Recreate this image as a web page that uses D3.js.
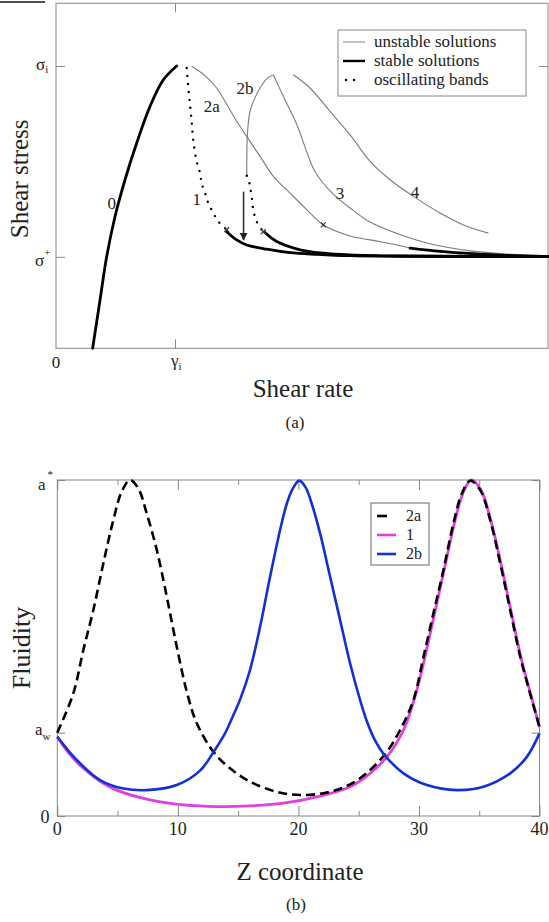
<!DOCTYPE html>
<html>
<head>
<meta charset="utf-8">
<script src="https://cdn.jsdelivr.net/npm/d3@7"></script>
<style>
  body { margin: 0; background: #fff; }
  svg { display: block; }
  svg text { font-family: "Liberation Serif", "DejaVu Serif", "Noto Serif", "Times New Roman", Times, serif; fill: #222; }
</style>
</head>
<body>
<svg id="chart"></svg>
<script>
// ---------- panel (a): shear stress vs shear rate ----------
// x in units of gamma_i, y in units of sigma_i
const sigmaPlus = 0.324, sigmaI = 1, gammaI = 1;

const curve0 = [[0.308,0],[0.370,0.171],[0.426,0.325],[0.496,0.467],[0.580,0.597],[0.678,0.727],[0.790,0.857],[0.902,0.951],[1.014,1.0]];
const curve1Osc = [[1.098,0.993],[1.112,0.922],[1.126,0.863],[1.140,0.804],[1.154,0.733],[1.182,0.662],[1.210,0.621],[1.224,0.585],[1.252,0.550],[1.280,0.514],[1.322,0.479],[1.364,0.449],[1.434,0.420]];
const curve1Stable = [[1.434,0.413],[1.518,0.384],[1.603,0.366],[1.770,0.351],[1.966,0.339],[2.191,0.333],[2.471,0.328],[2.891,0.326],[4.134,0.3245]];
const curve2a = [[1.140,0.999],[1.252,0.966],[1.350,0.922],[1.518,0.804],[1.630,0.733],[1.742,0.662],[1.826,0.609],[1.966,0.550],[2.107,0.491],[2.246,0.437],[2.471,0.398],[2.639,0.384],[2.863,0.366],[2.975,0.355]];
const curve2aStable = [[2.975,0.355],[3.227,0.343],[3.423,0.337],[3.731,0.330],[4.134,0.3248]];
const curve2b = [[1.603,0.611],[1.603,0.650],[1.608,0.756],[1.630,0.839],[1.672,0.887],[1.714,0.922],[1.776,0.957],[1.821,0.967]];
const curve2bOsc = [[1.603,0.611],[1.616,0.603],[1.630,0.573],[1.644,0.538],[1.658,0.490],[1.686,0.449],[1.742,0.413]];
const curve2bStable = [[1.756,0.410],[1.855,0.378],[2.050,0.349],[2.246,0.337],[2.471,0.331],[2.891,0.327],[4.134,0.3245]];
const curve3 = [[1.826,0.969],[1.924,0.880],[2.025,0.791],[2.101,0.703],[2.160,0.639],[2.235,0.590],[2.345,0.540],[2.471,0.497],[2.639,0.447],[2.849,0.409],[3.143,0.370],[3.479,0.345],[3.899,0.331],[4.134,0.326]];
const curve4 = [[1.994,0.969],[2.134,0.922],[2.303,0.839],[2.471,0.756],[2.639,0.662],[2.807,0.597],[3.003,0.538],[3.227,0.479],[3.423,0.437],[3.633,0.408]];
const crossMarks = [[1.434,0.420],[1.742,0.413],[2.246,0.437]];
const arrowX = 1.576, arrowFrom = 0.555, arrowTo = 0.384;
const curveLabels = [
  { t: "0", x: 0.468, y: 0.514 }, { t: "1", x: 1.182, y: 0.528 },
  { t: "2a", x: 1.308, y: 0.857 }, { t: "2b", x: 1.588, y: 0.922 },
  { t: "3", x: 2.387, y: 0.550 }, { t: "4", x: 3.017, y: 0.555 }
];
const legendA = ["unstable solutions", "stable solutions", "oscillating bands"];

// ---------- panel (b): fluidity vs z ----------
const aStar = 1, aW = 0.248;
const zTicks = [0, 10, 20, 30, 40];
const zMinor = [5, 15, 25, 35];
const profile2a = [[0,0.248],[1.33,0.365],[2.16,0.494],[2.99,0.613],[3.82,0.752],[4.65,0.881],[5.34,0.965],[6.03,1.0],[6.72,0.975],[7.42,0.90],[8.25,0.792],[9.08,0.653],[9.91,0.504],[10.74,0.370],[11.57,0.276],[12.95,0.191],[14.33,0.142],[15.99,0.102],[18.2,0.072],[20.14,0.0625],[22.36,0.070],[24.29,0.094],[25.95,0.137],[27.34,0.191],[28.44,0.256],[29.54,0.345],[30.38,0.474],[31.2,0.603],[32.03,0.732],[32.86,0.871],[33.56,0.96],[34.25,0.998],[35.08,0.97],[35.91,0.881],[36.74,0.752],[37.57,0.613],[38.4,0.474],[39.37,0.345],[40,0.265]];
const profile1 = [[0,0.236],[1.0,0.185],[2.16,0.142],[3.5,0.105],[4.93,0.077],[7.69,0.048],[10.46,0.033],[13.23,0.028],[15.99,0.030],[18.76,0.038],[21.53,0.057],[24.29,0.087],[25.95,0.127],[27.34,0.176],[28.72,0.256],[29.83,0.375],[30.6,0.49],[31.4,0.62],[32.2,0.75],[33.0,0.88],[33.7,0.965],[34.35,1.0],[35.15,0.97],[35.95,0.881],[36.8,0.752],[37.62,0.613],[38.45,0.474],[39.4,0.345],[40,0.265]];
const profile2b = [[0,0.236],[1.61,0.167],[3.54,0.107],[5.48,0.082],[7.42,0.077],[9.91,0.092],[11.84,0.135],[12.95,0.19],[13.9,0.245],[14.6,0.30],[15.2,0.35],[15.99,0.435],[16.82,0.563],[17.65,0.712],[18.48,0.851],[19.0,0.925],[19.5,0.972],[20.07,0.998],[20.6,0.978],[21.1,0.93],[21.8,0.841],[22.63,0.712],[23.46,0.583],[24.29,0.454],[25.12,0.345],[25.7,0.28],[26.4,0.222],[27.06,0.185],[28.72,0.127],[30.66,0.092],[33.15,0.077],[35.35,0.087],[37.57,0.127],[38.95,0.176],[40,0.246]];
const legendB = ["2a", "1", "2b"];

const W = 549, H = 922;
const svg = d3.select("#chart").attr("width", W).attr("height", H);

// small stray rule at the very top left of the page
svg.append("line").attr("x1", 0).attr("x2", 45).attr("y1", 2).attr("y2", 2)
  .attr("stroke", "#111").attr("stroke-width", 1.5);

// ===== panel (a) =====
const ax = d3.scaleLinear().domain([0, 4.134]).range([56, 548]);
const ay = d3.scaleLinear().domain([0, 1.222]).range([348.3, 3.3]);
const line = (sx, sy) => d3.line().x(d => sx(d[0])).y(d => sy(d[1])).curve(d3.curveCatmullRom.alpha(0.5));
const la = line(ax, ay);

const gA = svg.append("g");
gA.append("rect").attr("x", ax(0)).attr("y", ay(1.222))
  .attr("width", ax(4.134) - ax(0)).attr("height", ay(0) - ay(1.222))
  .attr("fill", "none").attr("stroke", "#888").attr("stroke-width", 1);

// ticks (inward) on all four sides
gA.append("g").attr("transform", `translate(0,${ay(0)})`)
  .call(d3.axisBottom(ax).tickValues([gammaI]).tickSize(-9).tickFormat(""))
  .call(g => g.select(".domain").remove());
gA.append("g").attr("transform", `translate(0,${ay(1.222)})`)
  .call(d3.axisTop(ax).tickValues([gammaI]).tickSize(-9).tickFormat(""))
  .call(g => g.select(".domain").remove());
gA.append("g").attr("transform", `translate(${ax(0)},0)`)
  .call(d3.axisLeft(ay).tickValues([sigmaPlus, sigmaI]).tickSize(-9).tickFormat(""))
  .call(g => g.select(".domain").remove());
gA.append("g").attr("transform", `translate(${ax(4.134)},0)`)
  .call(d3.axisRight(ay).tickValues([sigmaPlus, sigmaI]).tickSize(-9).tickFormat(""))
  .call(g => g.select(".domain").remove());
gA.selectAll(".tick line").attr("stroke", "#888");

// tick labels
gA.append("text").attr("x", ax(0)).attr("y", 368).attr("text-anchor", "middle")
  .attr("font-size", 17).text("0");
const gl = gA.append("text").attr("x", ax(gammaI) - 4).attr("y", 366).attr("font-size", 17);
gl.append("tspan").text("γ");
gl.append("tspan").attr("font-size", 11).attr("dy", 4).text("i");
const sl = gA.append("text").attr("x", 36).attr("y", ay(sigmaI) + 4).attr("font-size", 17);
sl.append("tspan").text("σ");
sl.append("tspan").attr("font-size", 11).attr("dy", 3).text("i");
const sp = gA.append("text").attr("x", 35).attr("y", ay(sigmaPlus) + 9).attr("font-size", 17);
sp.append("tspan").text("σ");
sp.append("tspan").attr("font-size", 11).attr("dy", -10).text("+");

// curves
[curve2a, curve2b, curve3, curve4].forEach(c => {
  gA.append("path").datum(c).attr("d", la).attr("fill", "none")
    .attr("stroke", "#7a7a7a").attr("stroke-width", 1.1);
});
[curve0, curve1Stable, curve2bStable, curve2aStable].forEach(c => {
  gA.append("path").datum(c).attr("d", la).attr("fill", "none")
    .attr("stroke", "#000").attr("stroke-width", 2.8).attr("stroke-linecap", "round");
});
[curve1Osc, curve2bOsc].forEach(c => {
  gA.append("path").datum(c).attr("d", la).attr("fill", "none")
    .attr("stroke", "#000").attr("stroke-width", 2.4)
    .attr("stroke-linecap", "round").attr("stroke-dasharray", "0,8");
});

// x marks where oscillations stop
gA.selectAll(".xmark").data(crossMarks).enter().append("path")
  .attr("transform", d => `translate(${ax(d[0])},${ay(d[1])}) rotate(45)`)
  .attr("d", "M-3.5,0H3.5M0,-3.5V3.5")
  .attr("stroke", "#333").attr("stroke-width", 1.2).attr("fill", "none");

// arrow
svg.append("defs").append("marker").attr("id", "arr")
  .attr("viewBox", "0 0 10 10").attr("refX", 9).attr("refY", 5)
  .attr("markerWidth", 5).attr("markerHeight", 5).attr("orient", "auto")
  .append("path").attr("d", "M0,0L10,5L0,10z").attr("fill", "#222");
gA.append("line").attr("x1", ax(arrowX)).attr("x2", ax(arrowX))
  .attr("y1", ay(arrowFrom)).attr("y2", ay(arrowTo))
  .attr("stroke", "#333").attr("stroke-width", 1.6).attr("marker-end", "url(#arr)");

gA.selectAll(".clab").data(curveLabels).enter().append("text")
  .attr("x", d => ax(d.x)).attr("y", d => ay(d.y) + 6)
  .attr("text-anchor", "middle").attr("font-size", 17).text(d => d.t);

// legend (a)
const lgA = gA.append("g").attr("transform", "translate(338,30)");
lgA.append("rect").attr("width", 188).attr("height", 66)
  .attr("fill", "#fff").attr("stroke", "#888");
lgA.selectAll("text").data(legendA).enter().append("text")
  .attr("x", 36).attr("y", (d, i) => 17 + i * 19).attr("font-size", 17).text(d => d);
lgA.append("line").attr("x1", 5).attr("x2", 27).attr("y1", 12).attr("y2", 12)
  .attr("stroke", "#999").attr("stroke-width", 1.2);
lgA.append("line").attr("x1", 5).attr("x2", 27).attr("y1", 31).attr("y2", 31)
  .attr("stroke", "#000").attr("stroke-width", 2.4);
lgA.append("line").attr("x1", 8).attr("x2", 24).attr("y1", 50).attr("y2", 50)
  .attr("stroke", "#000").attr("stroke-width", 2.4)
  .attr("stroke-linecap", "round").attr("stroke-dasharray", "0,8");

// axis titles (a)
gA.append("text").attr("transform", `translate(28,${(ay(0) + ay(1.222)) / 2 + 3}) rotate(-90)`)
  .attr("text-anchor", "middle").attr("font-size", 25).text("Shear stress");
gA.append("text").attr("x", 303).attr("y", 397).attr("text-anchor", "middle")
  .attr("font-size", 25).text("Shear rate");
gA.append("text").attr("x", 295).attr("y", 428).attr("text-anchor", "middle")
  .attr("font-size", 17).text("(a)");

// ===== panel (b) =====
const bx = d3.scaleLinear().domain([0, 40]).range([57.3, 539.5]);
const by = d3.scaleLinear().domain([0, 1]).range([816, 480]);
const lb = line(bx, by);
const gB = svg.append("g");

gB.append("rect").attr("x", bx(0)).attr("y", by(1))
  .attr("width", bx(40) - bx(0)).attr("height", by(0) - by(1))
  .attr("fill", "none").attr("stroke", "#888").attr("stroke-width", 1);

const tickAxis = (axisFn, vals, size, tr) => gB.append("g").attr("transform", tr)
  .call(axisFn.tickValues(vals).tickSize(size).tickFormat(""))
  .call(g => g.select(".domain").remove());
tickAxis(d3.axisBottom(bx), zTicks, -10, `translate(0,${by(0)})`);
tickAxis(d3.axisBottom(bx), zMinor, -5, `translate(0,${by(0)})`);
tickAxis(d3.axisTop(bx), zTicks, -10, `translate(0,${by(1)})`);
tickAxis(d3.axisTop(bx), zMinor, -5, `translate(0,${by(1)})`);
tickAxis(d3.axisLeft(by), [0, aW, aStar], -8, `translate(${bx(0)},0)`);
tickAxis(d3.axisRight(by), [0, aW, aStar], -8, `translate(${bx(40)},0)`);
gB.selectAll(".tick line").attr("stroke", "#888");

gB.selectAll(".zlab").data(zTicks).enter().append("text")
  .attr("x", d => bx(d)).attr("y", 835).attr("text-anchor", "middle")
  .attr("font-size", 18).text(d => d);
gB.append("text").attr("x", 45).attr("y", 823).attr("text-anchor", "middle")
  .attr("font-size", 18).text("0");
const as = gB.append("text").attr("x", 38).attr("y", by(aStar) + 10).attr("font-size", 17);
as.append("tspan").text("a");
as.append("tspan").attr("font-size", 11).attr("dy", -12).attr("dx", 2).text("*");
const aw = gB.append("text").attr("x", 35).attr("y", by(aW) + 2).attr("font-size", 17);
aw.append("tspan").text("a");
aw.append("tspan").attr("font-size", 11).attr("dy", 5).text("w");

// profiles
gB.append("path").datum(profile1).attr("d", lb).attr("fill", "none")
  .attr("stroke", "#e23ee0").attr("stroke-width", 2.8);
gB.append("path").datum(profile2a).attr("d", lb).attr("fill", "none")
  .attr("stroke", "#000").attr("stroke-width", 2.6).attr("stroke-dasharray", "9,5");
gB.append("path").datum(profile2b).attr("d", lb).attr("fill", "none")
  .attr("stroke", "#1230d4").attr("stroke-width", 2.6);

// legend (b)
const lgB = gB.append("g").attr("transform", "translate(371,503)");
lgB.append("rect").attr("width", 58).attr("height", 62)
  .attr("fill", "#fff").attr("stroke", "#666");
const legColors = ["#000", "#e23ee0", "#1230d4"];
lgB.selectAll("line").data(legendB).enter().append("line")
  .attr("x1", 6).attr("x2", (d, i) => i === 0 ? 16 : 25)
  .attr("y1", (d, i) => 13 + i * 19).attr("y2", (d, i) => 13 + i * 19)
  .attr("stroke", (d, i) => legColors[i]).attr("stroke-width", 2.6);
lgB.selectAll("text").data(legendB).enter().append("text")
  .attr("x", 35).attr("y", (d, i) => 18 + i * 19).attr("font-size", 16).text(d => d);

gB.append("text").attr("transform", `translate(30,${(by(0) + by(1)) / 2}) rotate(-90)`)
  .attr("text-anchor", "middle").attr("font-size", 26).text("Fluidity");
gB.append("text").attr("x", 300).attr("y", 880).attr("text-anchor", "middle")
  .attr("font-size", 25).text("Z coordinate");
gB.append("text").attr("x", 296).attr("y", 910).attr("text-anchor", "middle")
  .attr("font-size", 17).text("(b)");
</script>
</body>
</html>
